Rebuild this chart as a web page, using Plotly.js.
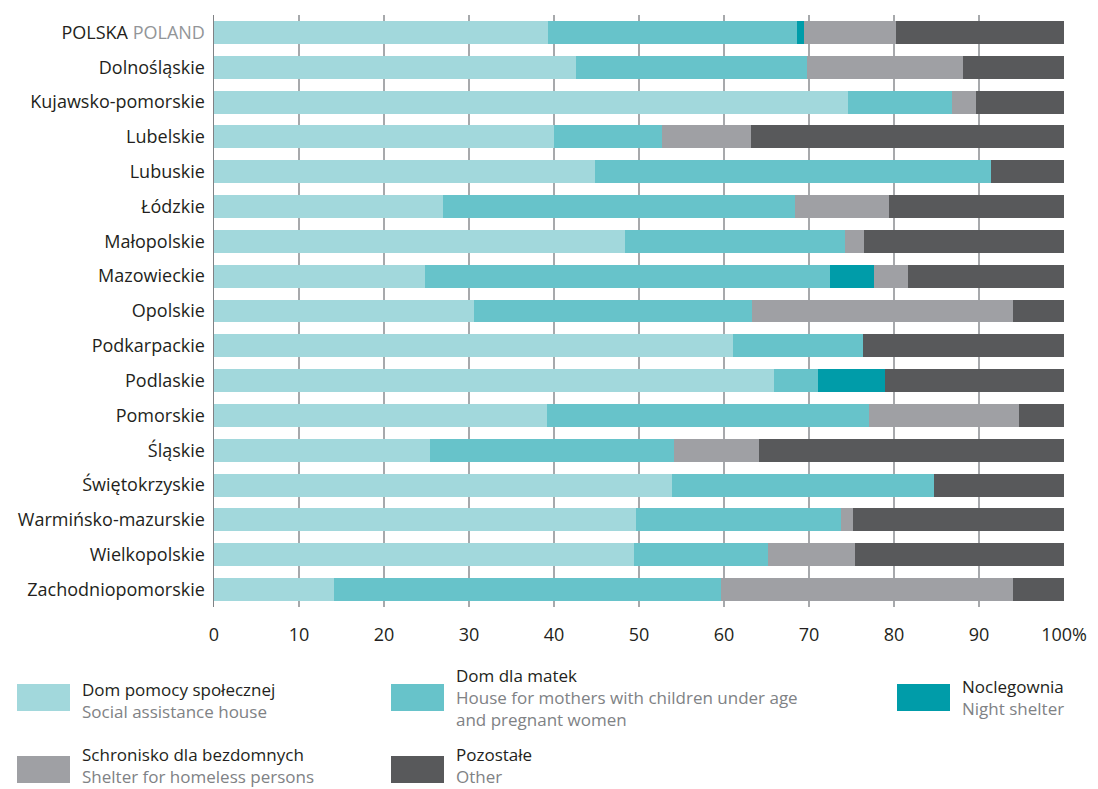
<!DOCTYPE html>
<html>
<head>
<meta charset="utf-8">
<script src="https://cdn.plot.ly/plotly-3.0.1.min.js"></script>
<style>html,body{margin:0;padding:0;background:#fff;}#chart{width:1098px;height:789px;}</style>
</head>
<body>
<div id="chart"></div>
<script>
const regions = ["POLSKA POLAND","Dolnośląskie","Kujawsko-pomorskie","Lubelskie","Lubuskie","Łódzkie","Małopolskie","Mazowieckie","Opolskie","Podkarpackie","Podlaskie","Pomorskie","Śląskie","Świętokrzyskie","Warmińsko-mazurskie","Wielkopolskie","Zachodniopomorskie"];
const regionLabels = ["POLSKA <span style='color:#939598'>POLAND</span>","Dolnośląskie","Kujawsko-pomorskie","Lubelskie","Lubuskie","Łódzkie","Małopolskie","Mazowieckie","Opolskie","Podkarpackie","Podlaskie","Pomorskie","Śląskie","Świętokrzyskie","Warmińsko-mazurskie","Wielkopolskie","Zachodniopomorskie"];

const domPomocy   = [39.3,42.6,74.6,40.0,44.8,26.9,48.4,24.8,30.6,61.1,65.9,39.2,25.4,53.9,49.6,49.4,14.1];
const domMatek    = [29.3,27.2,12.2,12.7,46.6,41.5,25.8,47.7,32.7,15.3, 5.2,37.9,28.7,30.8,24.2,15.8,45.5];
const noclegownia = [ 0.8, 0, 0, 0, 0, 0, 0, 5.1, 0, 0, 7.8, 0, 0, 0, 0, 0, 0];
const schronisko  = [10.8,18.3, 2.8,10.5, 0,11.0, 2.3, 4.0,30.7, 0, 0,17.6,10.0, 0, 1.4,10.2,34.4];
const pozostale   = [19.8,11.9,10.4,36.8, 8.6,20.6,23.5,18.4, 6.0,23.6,21.1, 5.3,35.9,15.3,24.8,24.6, 6.0];

const xTickVals = [0,10,20,30,40,50,60,70,80,90,100];
const xTickText = ["0","10","20","30","40","50","60","70","80","90","100%"];

const seriesNames = ["Dom pomocy społecznej","Dom dla matek","Noclegownia","Schronisko dla bezdomnych","Pozostałe"];
const seriesValues = [domPomocy, domMatek, noclegownia, schronisko, pozostale];
const colors = ["#a2d8dc","#67c3ca","#009ca9","#9fa0a4","#58595b"];

const traces = seriesValues.map((v,i)=>({
  type:'bar', orientation:'h', name:seriesNames[i], x:v, y:regions,
  marker:{color:colors[i], line:{width:0}}, width:0.66, hoverinfo:'x+y'
}));

const FONT = "'Open Sans', sans-serif";
const BLACK = "#231f20", GREY = "#808285";

const legendItems = [
  {col:0,row:0,title:"Dom pomocy społecznej",sub:["Social assistance house"],c:colors[0],cy:700},
  {col:1,row:0,title:"Dom dla matek",sub:["House for mothers with children under age","and pregnant women"],c:colors[1],cy:697},
  {col:2,row:0,title:"Noclegownia",sub:["Night shelter"],c:colors[2],cy:697},
  {col:0,row:1,title:"Schronisko dla bezdomnych",sub:["Shelter for homeless persons"],c:colors[3],cy:765},
  {col:1,row:1,title:"Pozostałe",sub:["Other"],c:colors[4],cy:765}
];
const colX = [17,391,897];
const rowSq = [684,756];
const W=1098,H=789;
const shapes=[], annotations=[];
legendItems.forEach(it=>{
  const x0=colX[it.col], y0=rowSq[it.row];
  shapes.push({type:'rect',xref:'paper',yref:'paper',
    x0:(x0-214)/850, x1:(x0+53-214)/850,
    y0:(607-(y0+27))/592, y1:(607-y0)/592,
    fillcolor:it.c, line:{width:0}});
  const txt = it.title + it.sub.map(s=>"<br><span style='color:"+GREY+"'>"+s+"</span>").join("");
  annotations.push({xref:'paper',yref:'paper',x:(x0+64-214)/850,y:(607-it.cy)/592,
    text:txt,showarrow:false,xanchor:'left',yanchor:'middle',align:'left',borderpad:0,
    font:{family:FONT,size:17,color:BLACK}});
});

const layout = {
  width:W,height:H,barmode:'stack',showlegend:false,
  paper_bgcolor:'#fff',plot_bgcolor:'#fff',
  margin:{l:214,r:34,t:15,b:182},
  bargap:0.34,
  font:{family:FONT,color:BLACK},
  xaxis:{range:[0,100],tickvals:xTickVals,ticktext:xTickText,showgrid:true,gridcolor:'#a7a9ac',gridwidth:1.2,
    zeroline:false,showline:false,ticks:'outside',ticklen:11,tickcolor:'rgba(0,0,0,0)',tickfont:{family:FONT,size:18,color:BLACK},fixedrange:true},
  yaxis:{categoryorder:'array',categoryarray:regions,autorange:'reversed',tickvals:regions,ticktext:regionLabels,
    showline:true,linecolor:'#808285',linewidth:1.5,ticks:'outside',ticklen:4,tickcolor:'rgba(0,0,0,0)',tickfont:{family:FONT,size:18,color:BLACK},showgrid:false},
  shapes:shapes,annotations:annotations
};
Plotly.newPlot('chart',traces,layout,{displayModeBar:false,staticPlot:true});
</script>
</body>
</html>
